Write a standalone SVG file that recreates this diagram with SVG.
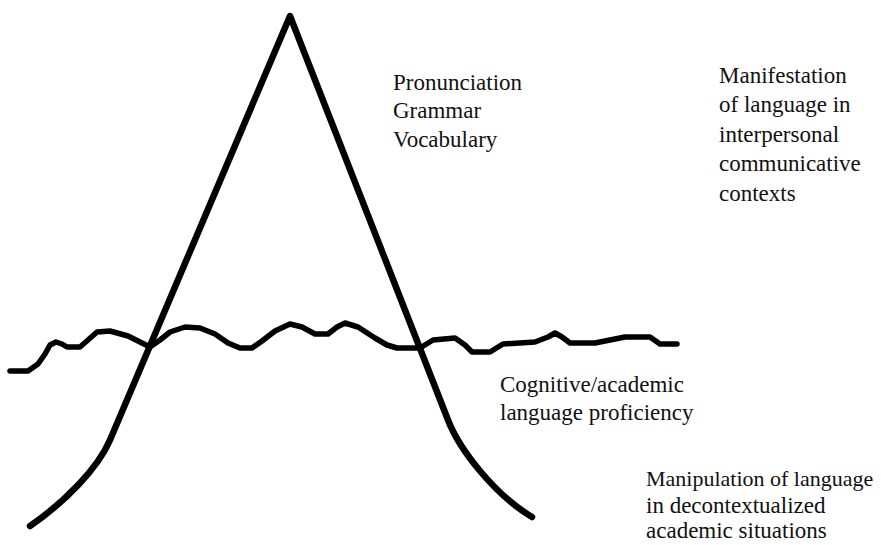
<svg xmlns="http://www.w3.org/2000/svg" width="881" height="545" viewBox="0 0 881 545">
<style>
.t{font-family:"Liberation Serif","Times New Roman",serif;font-size:23px;fill:#111}
.s{font-size:22px}
.ln{fill:none;stroke:#000;stroke-linecap:round;stroke-linejoin:round}
</style>
<rect width="881" height="545" fill="#fff"/>
<g id="connectors">
<path id="iceberg" class="ln" stroke-width="6.5" d="M30,526 C65,502 98,468 110,440 L290,16 L448,420 C459.6,450 495,495 532,517"/>
<polyline id="waterline" class="ln" stroke-width="5.5" points="10,371 28,371 38,364 45,354 50,345 56,342 62,344 67,347 80,347 88,340 97,332 110,331 128,336 140,342 150,347 160,340 170,332 185,327 200,328 215,334 228,343 240,348 252,348 262,341 275,331 290,324 302,327 315,334 328,334 337,327 345,323 358,327 375,338 387,345 397,348 420,348 433,340 455,338 465,345 472,352 490,352 503,344 535,342 548,337 555,333 562,337 570,343 595,343 625,337 650,337 660,344 677,344"/>
</g>
<g id="surface-features">
<text class="t" x="393" y="90">Pronunciation</text>
<text class="t" x="393" y="118">Grammar</text>
<text class="t" x="393" y="147">Vocabulary</text>
</g>
<g id="bics">
<text class="t" x="719" y="83">Manifestation</text>
<text class="t" x="719" y="112">of language in</text>
<text class="t" x="719" y="142">interpersonal</text>
<text class="t" x="719" y="171">communicative</text>
<text class="t" x="719" y="201">contexts</text>
</g>
<g id="calp">
<text class="t" x="500" y="392">Cognitive/academic</text>
<text class="t" x="500" y="420">language proficiency</text>
</g>
<g id="calp-desc">
<text class="t s" x="646" y="486">Manipulation of language</text>
<text class="t" x="646" y="513">in decontextualized</text>
<text class="t" x="646" y="538">academic situations</text>
</g>
</svg>
